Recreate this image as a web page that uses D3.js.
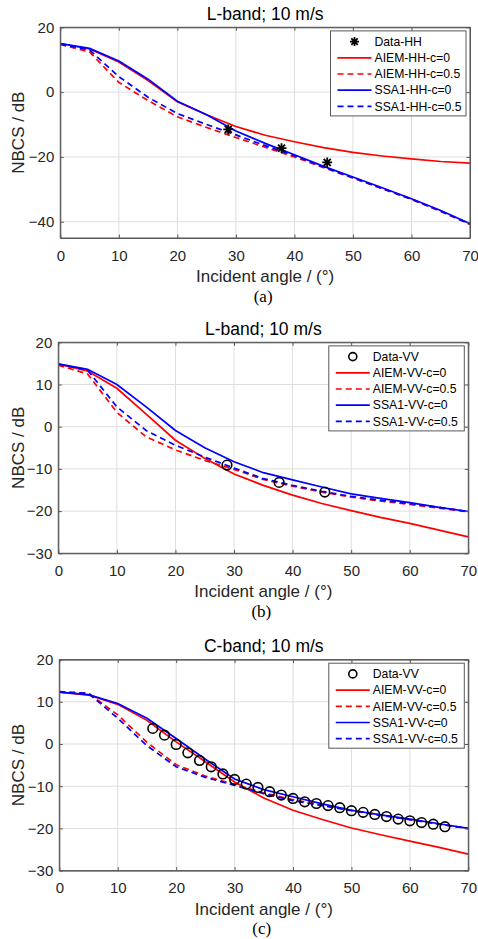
<!DOCTYPE html>
<html>
<head>
<meta charset="utf-8">
<script src="https://cdn.jsdelivr.net/npm/d3@7"></script>
<style>
  body { margin: 0; background: #fff; }
  svg { display: block; }
  text { font-family: "Liberation Sans", Arial, sans-serif; }
</style>
</head>
<body>
<div id="chart"></div>
<script>
// --- data ---

// incident angle grid of the model curves (deg)
let angles = [0, 5, 10, 15, 20, 25, 30, 35, 40, 45, 50, 55, 60, 65, 70];

// (a) L-band HH
let aiemHH_c0  = [15.0, 13.3, 9.3, 3.6, -3.0, -7.0, -10.6, -13.3, -15.3, -17.1, -18.6, -19.7, -20.6, -21.4, -21.9];
let aiemHH_c05 = [14.7, 12.4, 3.0, -2.6, -7.6, -10.9, -14.0, -17.0, -20.0, -23.3, -26.5, -29.8, -33.1, -36.8, -40.8];
let ssaHH_c0   = [15.0, 13.5, 9.6, 4.0, -2.8, -7.0, -12.0, -15.8, -19.3, -22.9, -26.2, -29.5, -32.9, -36.5, -40.6];
let ssaHH_c05  = [14.8, 13.0, 4.8, -1.6, -6.6, -10.0, -13.2, -16.5, -19.6, -23.1, -26.4, -29.7, -33.0, -36.7, -40.7];
let dataHH_ang = [28.7, 37.8, 45.6];
let dataHH_val = [-11.5, -17.3, -21.7];

// (b) L-band VV
let aiemLVV_c0  = [14.8, 13.2, 9.1, 3.0, -3.2, -7.5, -11.2, -13.9, -16.2, -18.2, -19.9, -21.5, -22.9, -24.5, -26.1];
let aiemLVV_c05 = [14.6, 12.5, 3.4, -2.4, -5.5, -8.0, -10.1, -12.5, -14.1, -15.5, -16.7, -17.6, -18.4, -19.3, -20.2];
let ssaLVV_c0   = [14.9, 13.6, 10.0, 4.7, -0.9, -5.0, -8.3, -10.9, -12.6, -14.3, -15.9, -17.0, -18.0, -19.1, -20.1];
let ssaLVV_c05  = [14.8, 13.4, 4.7, -0.9, -4.4, -7.2, -9.8, -12.3, -13.9, -15.3, -16.5, -17.4, -18.2, -19.1, -20.1];
let dataLVV_ang = [28.8, 37.7, 45.5];
let dataLVV_val = [-9.1, -13.2, -15.5];

// (c) C-band VV
let aiemCVV_c0  = [12.3, 11.6, 9.4, 5.6, 0.5, -4.2, -9.0, -12.8, -15.7, -17.9, -19.9, -21.5, -23.0, -24.5, -26.1];
let aiemCVV_c05 = [12.4, 12.0, 6.9, 0.4, -4.9, -7.6, -9.6, -11.6, -13.2, -14.5, -15.7, -16.8, -17.9, -19.0, -20.0];
let ssaCVV_c0   = [12.3, 11.7, 9.6, 6.1, 1.3, -3.6, -8.3, -10.8, -12.5, -14.2, -15.7, -16.8, -17.8, -18.9, -20.0];
let ssaCVV_c05  = [12.4, 12.0, 6.1, -0.4, -5.4, -7.9, -9.8, -11.8, -13.4, -14.6, -15.8, -16.9, -17.9, -19.0, -20.0];
let dataCVV_ang = [16, 18, 20, 22, 24, 26, 28, 30, 32, 34, 36, 38, 40, 42, 44, 46, 48, 50, 52, 54, 56, 58, 60, 62, 64, 66];
let dataCVV_val = [3.7, 2.1, -0.1, -2.1, -3.9, -5.4, -7.1, -8.4, -9.5, -10.3, -11.3, -12.1, -12.9, -13.7, -14.1, -14.6, -15.1, -15.8, -16.2, -16.7, -17.2, -17.8, -18.2, -18.6, -19.0, -19.6];

let xTicks = [0, 10, 20, 30, 40, 50, 60, 70];
let yTicksA = [-40, -20, 0, 20];
let yTicksBC = [-30, -20, -10, 0, 10, 20];

// --- layout ---
const W = 478, H = 939;
let svg = d3.select("#chart").append("svg").attr("width", W).attr("height", H);

let panels = [
  {title: "L-band; 10 m/s", tag: "(a)", left: 60.3, right: 470, top: 27.3, bottom: 238,
   ydom: [-45, 20], yticks: yTicksA, pol: "HH", marker: "star",
   mAng: dataHH_ang, mVal: dataHH_val,
   curves: [aiemHH_c0, aiemHH_c05, ssaHH_c0, ssaHH_c05]},
  {title: "L-band; 10 m/s", tag: "(b)", left: 58.3, right: 468.3, top: 342.3, bottom: 553.3,
   ydom: [-30, 20], yticks: yTicksBC, pol: "VV", marker: "circle",
   mAng: dataLVV_ang, mVal: dataLVV_val,
   curves: [aiemLVV_c0, aiemLVV_c05, ssaLVV_c0, ssaLVV_c05]},
  {title: "C-band; 10 m/s", tag: "(c)", left: 59.3, right: 468.3, top: 659.6, bottom: 870.6,
   ydom: [-30, 20], yticks: yTicksBC, pol: "VV", marker: "circle",
   mAng: dataCVV_ang, mVal: dataCVV_val,
   curves: [aiemCVV_c0, aiemCVV_c05, ssaCVV_c0, ssaCVV_c05]}
];

// style of each model curve
let curveStyle = [
  {name: "AIEM", c: "0",   color: "#ff0000", dash: null},
  {name: "AIEM", c: "0.5", color: "#ff0000", dash: "6,4"},
  {name: "SSA1", c: "0",   color: "#0000ff", dash: null},
  {name: "SSA1", c: "0.5", color: "#0000ff", dash: "6,4"}
];

const axisColor = "#595959", textColor = "#262626", gridColor = "#dedede";

function starPath(r) {
  let d = 0.707 * r;
  return "M" + (-r) + ",0L" + r + ",0M0," + (-r) + "L0," + r +
         "M" + (-d) + "," + (-d) + "L" + d + "," + d +
         "M" + (-d) + "," + d + "L" + d + "," + (-d);
}

function drawMarker(g, x, y, type, size) {
  if (type == "star") {
    g.append("path").attr("d", starPath(size))
      .attr("transform", "translate(" + x + "," + y + ")")
      .attr("stroke", "#000").attr("stroke-width", 1.8).attr("fill", "none");
  } else {
    g.append("circle").attr("cx", x).attr("cy", y).attr("r", size)
      .attr("stroke", "#000").attr("stroke-width", 1.6).attr("fill", "none");
  }
}

panels.forEach(function(p, pi) {
  let x = d3.scaleLinear().domain([0, 70]).range([p.left, p.right]);
  let y = d3.scaleLinear().domain(p.ydom).range([p.bottom, p.top]);
  let g = svg.append("g");

  // grid
  g.append("g").selectAll("line.vg").data(xTicks).enter().append("line")
    .attr("x1", d => x(d)).attr("x2", d => x(d))
    .attr("y1", p.top).attr("y2", p.bottom)
    .attr("stroke", gridColor).attr("stroke-width", 1);
  g.append("g").selectAll("line.hg").data(p.yticks).enter().append("line")
    .attr("x1", p.left).attr("x2", p.right)
    .attr("y1", d => y(d)).attr("y2", d => y(d))
    .attr("stroke", gridColor).attr("stroke-width", 1);

  // clip for curves
  let clipId = "clip" + pi;
  svg.append("clipPath").attr("id", clipId).append("rect")
    .attr("x", p.left).attr("y", p.top)
    .attr("width", p.right - p.left).attr("height", p.bottom - p.top);

  let line = d3.line().x(d => x(d[0])).y(d => y(d[1]));
  let cg = g.append("g").attr("clip-path", "url(#" + clipId + ")");
  // draw order: AIEM solid, AIEM dashed, SSA1 solid, SSA1 dashed
  p.curves.forEach(function(vals, k) {
    let pts = angles.map((a, i) => [a, vals[i]]);
    cg.append("path").datum(pts).attr("d", line)
      .attr("fill", "none")
      .attr("stroke", curveStyle[k].color)
      .attr("stroke-width", 1.7)
      .attr("stroke-dasharray", curveStyle[k].dash);
  });

  // measured data
  let mg = g.append("g");
  p.mAng.forEach(function(a, i) {
    drawMarker(mg, x(a), y(p.mVal[i]), p.marker, p.marker == "star" ? 5 : 4.8);
  });

  // axes (ticks inside on all four sides)
  g.append("g").attr("transform", "translate(0," + p.bottom + ")")
    .call(d3.axisBottom(x).tickValues(xTicks).tickSizeInner(-3.5).tickSizeOuter(0).tickPadding(12));
  g.append("g").attr("transform", "translate(" + p.left + ",0)")
    .call(d3.axisLeft(y).tickValues(p.yticks).tickSizeInner(-3.5).tickSizeOuter(0).tickPadding(6));
  g.append("g").attr("transform", "translate(0," + p.top + ")")
    .call(d3.axisTop(x).tickValues(xTicks).tickSizeInner(-3.5).tickSizeOuter(0).tickFormat(""));
  g.append("g").attr("transform", "translate(" + p.right + ",0)")
    .call(d3.axisRight(y).tickValues(p.yticks).tickSizeInner(-3.5).tickSizeOuter(0).tickFormat(""));
  g.selectAll(".domain").attr("stroke", axisColor);
  g.selectAll(".tick line").attr("stroke", axisColor);
  g.selectAll(".tick text").attr("fill", textColor).style("font-size", "15px")
    .style("font-family", "'Liberation Sans', Arial, sans-serif");

  g.append("rect").attr("x", p.left).attr("y", p.top)
    .attr("width", p.right - p.left).attr("height", p.bottom - p.top)
    .attr("fill", "none").attr("stroke", axisColor).attr("stroke-width", 1);

  // title and labels
  let cx = (p.left + p.right) / 2;
  g.append("text").attr("x", cx).attr("y", p.top - 7.5)
    .attr("text-anchor", "middle").attr("fill", "#000")
    .style("font-size", "17.5px").text(p.title);
  g.append("text").attr("x", cx).attr("y", p.bottom + 44)
    .attr("text-anchor", "middle").attr("fill", textColor)
    .style("font-size", "17px").text("Incident angle / (°)");
  g.append("text")
    .attr("transform", "translate(24," + ((p.top + p.bottom) / 2) + ") rotate(-90)")
    .attr("text-anchor", "middle").attr("fill", textColor)
    .style("font-size", "17px").text("NBCS / dB");
  g.append("text").attr("x", cx - 2).attr("y", p.bottom + 63.5)
    .attr("text-anchor", "middle").attr("fill", "#000")
    .style("font-family", "'Liberation Serif', 'Times New Roman', serif")
    .style("font-size", "17px").text(p.tag);

  // legend
  let lw = 135.5, lh = 85;
  let lx = p.right - 4 - lw, ly = p.top + 3.6;
  let lg = g.append("g");
  lg.append("rect").attr("x", lx).attr("y", ly).attr("width", lw).attr("height", lh)
    .attr("fill", "#fff").attr("stroke", axisColor).attr("stroke-width", 1);
  let rowY = i => ly + 10.7 + i * 16.2;
  drawMarker(lg, lx + 24, rowY(0), p.marker, p.marker == "star" ? 4.5 : 4);
  lg.append("text").attr("x", lx + 44).attr("y", rowY(0)).attr("dy", "0.35em")
    .attr("fill", "#000").style("font-size", "12.2px").text("Data-" + p.pol);
  curveStyle.forEach(function(s, k) {
    lg.append("line").attr("x1", lx + 7).attr("x2", lx + 41)
      .attr("y1", rowY(k + 1)).attr("y2", rowY(k + 1))
      .attr("stroke", s.color).attr("stroke-width", 1.7)
      .attr("stroke-dasharray", s.dash);
    lg.append("text").attr("x", lx + 44).attr("y", rowY(k + 1)).attr("dy", "0.35em")
      .attr("fill", "#000").style("font-size", "12.2px")
      .text(s.name + "-" + p.pol + "-c=" + s.c);
  });
});
</script>
</body>
</html>
